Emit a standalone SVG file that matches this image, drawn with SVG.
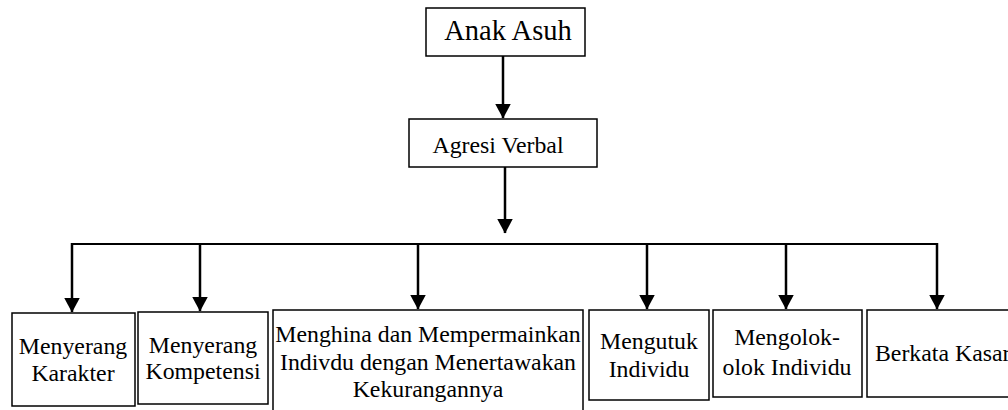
<svg xmlns="http://www.w3.org/2000/svg" width="1008" height="410" viewBox="0 0 1008 410">
<style>
.box{fill:#fff;stroke:#000;stroke-width:1.5}
.t{font-family:'Liberation Serif','Times New Roman',serif;font-size:23.8px;fill:#000;text-anchor:middle}
.ln{stroke:#000;stroke-width:2.5;fill:none}
.hl{stroke:#000;stroke-width:2;fill:none}
</style>
<defs>
<marker id="ah" markerWidth="15" markerHeight="16" viewBox="0 0 15 16" refX="14.5" refY="8" orient="auto" markerUnits="userSpaceOnUse">
<path d="M0,0 L15,8 L0,16 Z" fill="#000"/>
</marker>
</defs>
<g id="n-anak">
<rect class="box" x="426" y="8" width="159" height="48"/>
<text class="t" x="508" y="40" style="font-size:28.5px">Anak Asuh</text>
</g>
<g id="n-agresi">
<rect class="box" x="409" y="119" width="188" height="48"/>
<text class="t" x="498" y="153">Agresi Verbal</text>
</g>
<g id="n1">
<rect class="box" x="12" y="313" width="123" height="93"/>
<text class="t" x="73" y="354">Menyerang</text>
<text class="t" x="73" y="381">Karakter</text>
</g>
<g id="n2">
<rect class="box" x="138" y="312" width="130" height="92"/>
<text class="t" x="203" y="353">Menyerang</text>
<text class="t" x="203" y="379">Kompetensi</text>
</g>
<g id="n3">
<rect class="box" x="273" y="310" width="310" height="110"/>
<text class="t" x="428" y="342">Menghina dan Mempermainkan</text>
<text class="t" x="428" y="370">Indivdu dengan Menertawakan</text>
<text class="t" x="428" y="397">Kekurangannya</text>
</g>
<g id="n4">
<rect class="box" x="589" y="310" width="120" height="90"/>
<text class="t" x="649" y="349">Mengutuk</text>
<text class="t" x="649" y="377">Individu</text>
</g>
<g id="n5">
<rect class="box" x="713" y="310" width="149" height="87"/>
<text class="t" x="787" y="345">Mengolok-</text>
<text class="t" x="787" y="375">olok Individu</text>
</g>
<g id="n6">
<rect class="box" x="867" y="310" width="160" height="87"/>
<text class="t" x="875" y="361" style="text-anchor:start">Berkata Kasar</text>
</g>
<g id="connectors">
<line class="ln" x1="503" y1="56" x2="503" y2="118" marker-end="url(#ah)"/>
<line class="ln" x1="505" y1="167" x2="505" y2="233" marker-end="url(#ah)"/>
<polyline class="hl" points="72,244 72,244 937,244"/>
<line class="ln" x1="72" y1="243" x2="72" y2="312" marker-end="url(#ah)"/>
<line class="ln" x1="200" y1="244" x2="200" y2="311" marker-end="url(#ah)"/>
<line class="ln" x1="418" y1="244" x2="418" y2="309" marker-end="url(#ah)"/>
<line class="ln" x1="647" y1="244" x2="647" y2="309" marker-end="url(#ah)"/>
<line class="ln" x1="786" y1="244" x2="786" y2="309" marker-end="url(#ah)"/>
<line class="ln" x1="937" y1="243" x2="937" y2="309" marker-end="url(#ah)"/>
</g>
</svg>
